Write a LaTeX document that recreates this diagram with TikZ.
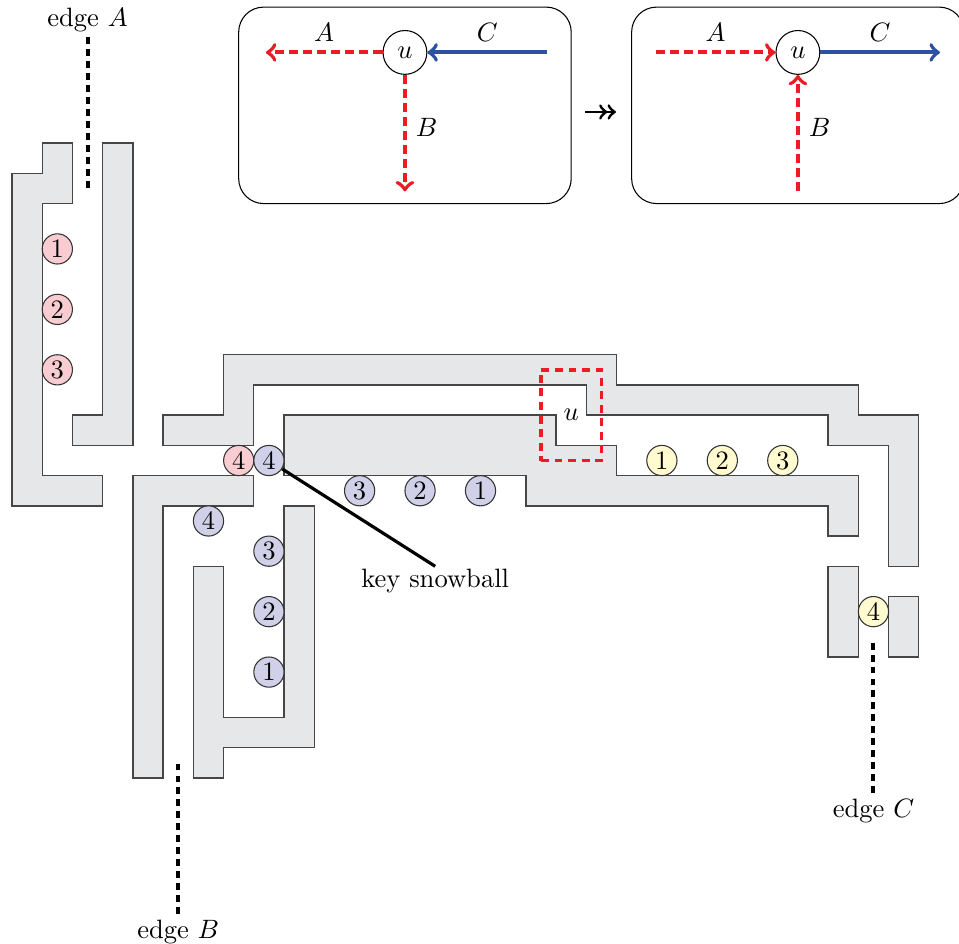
\documentclass[tikz,border=0pt]{standalone}
\usepackage{amssymb}
\definecolor{wallgray}{RGB}{230,231,232}
\definecolor{walldraw}{RGB}{70,70,70}
\definecolor{edgered}{RGB}{237,28,36}
\definecolor{edgeblue}{RGB}{46,82,162}
\definecolor{snowpink}{RGB}{248,204,208}
\definecolor{snowblue}{RGB}{208,208,232}
\definecolor{snowyellow}{RGB}{255,250,208}
\begin{document}
\begin{tikzpicture}[x=0.4cm, y=-0.4cm, >=to,
    wall/.style={fill=wallgray, draw=walldraw, line width=0.5pt},
    snow/.style={circle, draw=black!80, inner sep=0pt, minimum size=0.4cm},
    panel/.style={draw, rounded corners=0.33cm, minimum width=4.4cm, minimum height=2.6cm},
    unode/.style={circle, draw, inner sep=0pt, minimum size=0.58cm},
    redarrow/.style={edgered, line width=1.5pt, dash pattern=on 3.4pt off 1.9pt},
    bluearrow/.style={edgeblue, line width=1.5pt},
    arrowlabel/.style={text=black},
    edgeline/.style={line width=1.5pt, dash pattern=on 2.6pt off 1.9pt},
    edgelabel/.style={inner sep=2pt}]
    \clip (-0.397,-4.735) rectangle (31.33,26.49);

    % walls
    \draw[wall] (1,0) -- (2,0) -- (2,2) -- (1,2) -- (1,11) -- (3,11) -- (3,12)
        -- (0,12) -- (0,1) -- (1,1) -- cycle;
    \draw[wall] (3,0) -- (4,0) -- (4,10) -- (2,10) -- (2,9) -- (3,9) -- cycle;
    \draw[wall] (7,7) -- (20,7) -- (20,8) -- (28,8) -- (28,9) -- (30,9) -- (30,14)
        -- (29,14) -- (29,10) -- (27,10) -- (27,9) -- (19,9) -- (19,8) -- (8,8)
        -- (8,10) -- (5,10) -- (5,9) -- (7,9) -- cycle;
    \draw[wall] (9,9) -- (18,9) -- (18,10) -- (20,10) -- (20,11) -- (28,11)
        -- (28,13) -- (27,13) -- (27,12) -- (17,12) -- (17,11) -- (9,11) -- cycle;
    \draw[wall] (4,11) -- (8,11) -- (8,12) -- (5,12) -- (5,21) -- (4,21) -- cycle;
    \draw[wall] (6,14) -- (7,14) -- (7,19) -- (9,19) -- (9,12) -- (10,12)
        -- (10,20) -- (7,20) -- (7,21) -- (6,21) -- cycle;
    \draw[wall] (27,14) rectangle (28,17);
    \draw[wall] (29,15) rectangle (30,17);

    % the vertex u
    \node[draw=edgered, line width=1.3pt, dash pattern=on 3pt off 2.1pt,
        minimum width=0.8cm, minimum height=1.2cm] (ubox) at (18.5,9) {\(u\)};

    % snowballs
    \node[snow, fill=snowpink] (a1) at (1.5,3.5) {1};
    \node[snow, fill=snowpink] (a2) at (1.5,5.5) {2};
    \node[snow, fill=snowpink] (a3) at (1.5,7.5) {3};
    \node[snow, fill=snowpink] (a4) at (7.5,10.5) {4};

    \node[snow, fill=snowblue] (kb) at (8.5,10.5) {4};
    \node[snow, fill=snowblue] (b3) at (11.5,11.5) {3};
    \node[snow, fill=snowblue] (b2) at (13.5,11.5) {2};
    \node[snow, fill=snowblue] (b1) at (15.5,11.5) {1};
    \node[snow, fill=snowblue] (bb4) at (6.5,12.5) {4};
    \node[snow, fill=snowblue] (bb3) at (8.5,13.5) {3};
    \node[snow, fill=snowblue] (bb2) at (8.5,15.5) {2};
    \node[snow, fill=snowblue] (bb1) at (8.5,17.5) {1};

    \node[snow, fill=snowyellow] (c1) at (21.5,10.5) {1};
    \node[snow, fill=snowyellow] (c2) at (23.5,10.5) {2};
    \node[snow, fill=snowyellow] (c3) at (25.5,10.5) {3};
    \node[snow, fill=snowyellow] (c4) at (28.5,15.5) {4};

    \node[anchor=north, inner sep=1pt] (key) at (14,14) {key snowball};
    \draw[line width=1.2pt] (kb) -- (key.north);

    % edges
    \node[above, edgelabel] (ea) at (2.5,-3.5) {edge \(A\)};
    \coordinate (eA) at (2.5,1.5);
    \draw[edgeline] (ea) -- (eA);
    \node[below, edgelabel] (eb) at (5.5,25.5) {edge \(B\)};
    \coordinate (eB) at (5.5,20.5);
    \draw[edgeline] (eb) -- (eB);
    \node[below, edgelabel] (ec) at (28.5,21.5) {edge \(C\)};
    \coordinate (eC) at (28.5,16.5);
    \draw[edgeline] (ec) -- (eC);

    % before
    \node[panel] (lp) at (13,-1.25) {};
    \node[unode] (lu) at (13,-3) {\(u\)};
    \coordinate (lA) at (8.4,-3);
    \coordinate (lC) at (17.7,-3);
    \coordinate (lB) at (13,1.6);
    \draw[redarrow, ->] (lu) -- (lA) node[midway, above, arrowlabel] {\(A\)};
    \draw[bluearrow, ->] (lC) -- (lu) node[midway, above, arrowlabel] {\(C\)};
    \draw[redarrow, ->] (lu) -- (lB) node[pos=0.45, right, arrowlabel] {\(B\)};

    % after
    \node[panel] (rp) at (26,-1.25) {};
    \node[unode] (ru) at (26,-3) {\(u\)};
    \coordinate (rA) at (21.3,-3);
    \coordinate (rC) at (30.7,-3);
    \coordinate (rB) at (26,1.6);
    \draw[redarrow, ->] (rA) -- (ru) node[midway, above, arrowlabel] {\(A\)};
    \draw[bluearrow, ->] (ru) -- (rC) node[midway, above, arrowlabel] {\(C\)};
    \draw[redarrow, ->] (rB) -- (ru) node[pos=0.55, right, arrowlabel] {\(B\)};

    \draw[->>, line width=1.1pt, shorten <=0.18cm, shorten >=0.2cm]
        ([yshift=-2.5pt]lp.east) -- ([yshift=-2.5pt]rp.west);
\end{tikzpicture}
\end{document}
